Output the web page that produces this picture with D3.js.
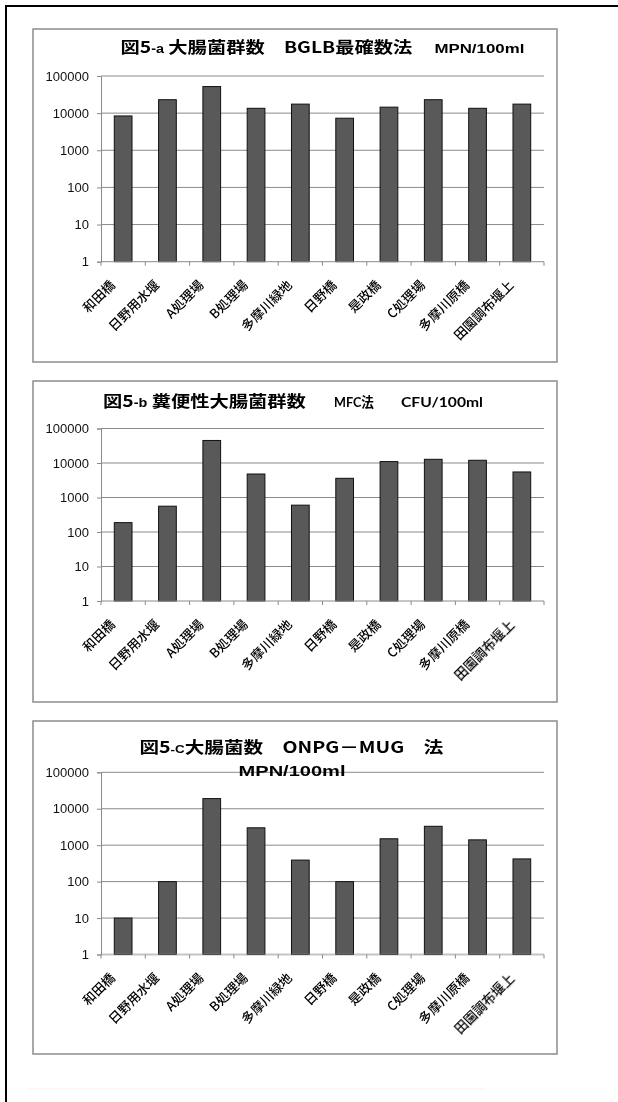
<!DOCTYPE html>
<html><head><meta charset="utf-8">
<script src="https://cdn.jsdelivr.net/npm/d3@7"></script>
<style>body{margin:0;background:#fff} svg{display:block;will-change:transform}</style>
</head><body>
<svg id="c" width="618" height="1102"></svg>
<script>
// Sampling sites along the Tama river
const categories = ["和田橋","日野用水堰","A処理場","B処理場","多摩川緑地","日野橋","是政橋","C処理場","多摩川原橋","田園調布堰上"];
// 図5-a total coliforms, BGLB MPN method (MPN/100ml)
const coliformBGLB = [8400, 23000, 52000, 13500, 17500, 7300, 14500, 23000, 13500, 17500];
// 図5-b fecal coliforms, MFC method (CFU/100ml)
const fecalColiformMFC = [187, 560, 45000, 4800, 600, 3600, 11000, 12800, 12000, 5500];
// 図5-c E. coli, ONPG-MUG method (MPN/100ml)
const eColiONPG = [10, 100, 19000, 3000, 390, 100, 1500, 3300, 1400, 420];
const yTicks = [1, 10, 100, 1000, 10000, 100000];
const yTickLabels = ["1", "10", "100", "1000", "10000", "100000"];

const svg = d3.select("#c");
const CJK = "'Noto Sans CJK JP', 'Noto Sans CJK SC', sans-serif";
const ARIAL = "'Liberation Sans', Arial, sans-serif";
const CALI = "Lato, 'Noto Sans CJK JP', sans-serif";

// outer frame (only top and left edges fall inside the page)
svg.append("line").attr("x1", 5).attr("y1", 6).attr("x2", 618).attr("y2", 6)
  .attr("stroke", "#000").attr("stroke-width", 2);
svg.append("line").attr("x1", 6).attr("y1", 5).attr("x2", 6).attr("y2", 1102)
  .attr("stroke", "#000").attr("stroke-width", 2);
svg.append("line").attr("x1", 29).attr("y1", 1089).attr("x2", 485).attr("y2", 1089)
  .attr("stroke", "#f3f3f3").attr("stroke-width", 1);

// stretch a text element horizontally so it spans the given width
function fitWidth(t, x, width) {
  const w = t.node().getComputedTextLength();
  const s = width / w;
  t.attr("x", 0).attr("transform", `translate(${x},${t.attr("data-y")}) scale(${s},1)`).attr("y", 0);
}
function titleText(g, x, y, width, parts) {
  const t = g.append("text").attr("data-y", y).attr("fill", "#000");
  parts.forEach(p => {
    t.append("tspan").text(p.s).attr("font-family", p.f).attr("font-size", p.size)
      .attr("font-weight", "bold");
  });
  fitWidth(t, x, width);
  return t;
}

const panels = [
  { values: coliformBGLB, box: [33, 29, 524, 333], y0: 76, y1: 261.7,
    titles: g => {
      titleText(g, 120.5, 53, 292, [
        {s: "図5", f: CJK, size: 16}, {s: "-a", f: ARIAL, size: 12},
        {s: " 大腸菌群数\u3000BGLB最確数法", f: CJK, size: 16}]);
      titleText(g, 434.4, 53, 90, [{s: "MPN/100ml", f: ARIAL, size: 13}]);
    }},
  { values: fecalColiformMFC, box: [33, 381, 524, 321], y0: 428.5, y1: 601,
    titles: g => {
      titleText(g, 103, 407, 203, [
        {s: "図5", f: CJK, size: 16}, {s: "-b", f: ARIAL, size: 12},
        {s: " 糞便性大腸菌群数", f: CJK, size: 16}]);
      titleText(g, 334, 407, 40, [{s: "MFC法", f: CALI, size: 14}]);
      titleText(g, 401, 407, 82, [{s: "CFU/100ml", f: CALI, size: 14}]);
    }},
  { values: eColiONPG, box: [33, 721, 524, 333], y0: 772.3, y1: 954.5,
    titles: g => {
      titleText(g, 139.5, 753, 304, [
        {s: "図5", f: CJK, size: 16}, {s: "-C", f: ARIAL, size: 11},
        {s: "大腸菌数\u3000ONPG－MUG\u3000法", f: CJK, size: 16}]);
      titleText(g, 238.6, 776, 107, [{s: "MPN/100ml", f: ARIAL, size: 15}]);
    }}
];

const plotX0 = 101, plotX1 = 544;

panels.forEach(p => {
  const g = svg.append("g");
  const [bx, by, bw, bh] = p.box;
  g.append("rect").attr("x", bx).attr("y", by).attr("width", bw).attr("height", bh)
    .attr("fill", "#fff").attr("stroke", "#8c8c8c").attr("stroke-width", 1.5);

  const x = d3.scaleBand().domain(categories).range([plotX0, plotX1])
    .paddingInner(0.6).paddingOuter(0.3);
  const y = d3.scaleLog().domain([1, 100000]).range([p.y1, p.y0]);

  // horizontal gridlines
  g.append("g").selectAll("line").data(yTicks.slice(1)).join("line")
    .attr("x1", plotX0).attr("x2", plotX1)
    .attr("y1", d => y(d)).attr("y2", d => y(d))
    .attr("stroke", "#8a8a8a").attr("stroke-width", 1);

  // y axis
  const ya = g.append("g").attr("transform", `translate(${plotX0},0)`)
    .call(d3.axisLeft(y).tickValues(yTicks).tickFormat((d, i) => yTickLabels[i])
      .tickSize(4).tickPadding(8));
  ya.select(".domain").attr("stroke", "#8a8a8a");
  ya.selectAll(".tick line").attr("stroke", "#8a8a8a");
  ya.selectAll(".tick text").attr("font-family", ARIAL).attr("font-size", 13).attr("fill", "#111");

  // bars
  g.append("g").selectAll("rect").data(p.values).join("rect")
    .attr("x", (d, i) => x(categories[i]))
    .attr("width", x.bandwidth())
    .attr("y", d => y(d))
    .attr("height", d => y(1) - y(d))
    .attr("fill", "#595959").attr("stroke", "#111").attr("stroke-width", 1);

  // x axis with ticks on category boundaries
  const step = x.step();
  const xa = g.append("g").attr("transform", `translate(0,${p.y1})`);
  xa.append("line").attr("x1", plotX0).attr("x2", plotX1).attr("stroke", "#8a8a8a");
  xa.selectAll("line.t").data(d3.range(categories.length + 1)).join("line").attr("class", "t")
    .attr("x1", i => plotX0 + i * step).attr("x2", i => plotX0 + i * step)
    .attr("y1", 0).attr("y2", 4).attr("stroke", "#8a8a8a");
  xa.selectAll("text").data(categories).join("text")
    .attr("transform", d => `translate(${x(d) + x.bandwidth() / 2 - 10.5},21) rotate(-45)`)
    .attr("text-anchor", "end").attr("dy", "0.35em")
    .attr("font-family", CJK).attr("font-size", 13).attr("font-weight", 500).attr("fill", "#000")
    .text(d => d);

  p.titles(g);
});
</script>
</body></html>
